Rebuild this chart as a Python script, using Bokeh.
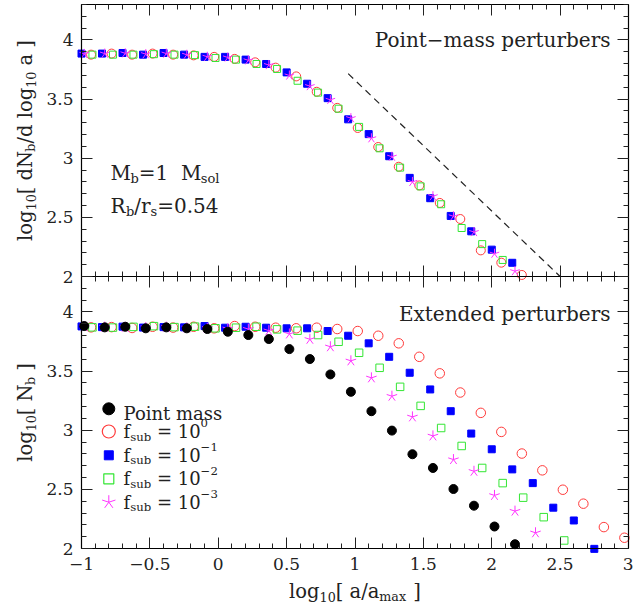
import numpy as np
from math import pi, cos, sin
from bokeh.plotting import figure
from bokeh.models import (Range1d, LinearAxis, SingleIntervalTicker,
                          CustomJSTickFormatter, Label, Grid)
from bokeh.embed import file_html
from bokeh.resources import INLINE

# ---------------- data ----------------
# upper panel : point-mass perturbers
top_blue_x = [-1.00, -0.85, -0.70, -0.55, -0.40, -0.25, -0.10, 0.05, 0.20, 0.35, 0.50,
              0.65, 0.80, 0.95, 1.10, 1.25, 1.40, 1.55, 1.70, 1.85, 2.00, 2.15]
top_blue_y = [3.885, 3.885, 3.890, 3.876, 3.890, 3.876, 3.857, 3.857, 3.834, 3.797, 3.726,
              3.630, 3.508, 3.329, 3.204, 3.017, 2.834, 2.662, 2.512, 2.382, 2.227, 2.116]
top_red_x = [-0.93, -0.78, -0.63, -0.48, -0.33, -0.18, -0.03, 0.12, 0.27, 0.42, 0.57,
             0.72, 0.87, 1.02, 1.17, 1.32, 1.47, 1.62, 1.77, 1.92, 2.07, 2.22]
top_red_y = [3.876, 3.885, 3.876, 3.885, 3.876, 3.870, 3.857, 3.840, 3.811, 3.766, 3.692,
             3.562, 3.426, 3.256, 3.095, 2.928, 2.770, 2.622, 2.486, 2.221, 2.117, 2.013]
top_green_x = [-0.92, -0.77, -0.62, -0.47, -0.32, -0.17, -0.02, 0.13, 0.28, 0.43, 0.58,
               0.73, 0.88, 1.03, 1.18, 1.33, 1.48, 1.63, 1.78, 1.93, 2.08]
top_green_y = [3.876, 3.876, 3.876, 3.880, 3.876, 3.872, 3.848, 3.834, 3.797, 3.755, 3.655,
               3.555, 3.419, 3.265, 3.084, 2.921, 2.762, 2.611, 2.410, 2.274, 2.140]
top_mag_x = [-0.98, -0.83, -0.68, -0.53, -0.38, -0.23, -0.08, 0.07, 0.22, 0.37, 0.52,
             0.67, 0.82, 0.97, 1.12, 1.27, 1.42, 1.57, 1.72, 1.87, 2.02, 2.17]
top_mag_y = [3.882, 3.885, 3.887, 3.880, 3.885, 3.875, 3.858, 3.852, 3.828, 3.788, 3.700,
             3.610, 3.494, 3.339, 3.169, 3.013, 2.800, 2.679, 2.509, 2.376, 2.193, 2.045]
slope_x = [0.95, 2.50]
slope_y = [3.715, 2.00]

# lower panel : extended perturbers
bot_black_x = [-0.98, -0.83, -0.68, -0.53, -0.38, -0.23, -0.08, 0.07, 0.22, 0.37, 0.52,
               0.67, 0.82, 0.97, 1.12, 1.27, 1.42, 1.57, 1.72, 1.87, 2.02, 2.17]
bot_black_y = [3.881, 3.870, 3.875, 3.862, 3.870, 3.862, 3.856, 3.833, 3.805, 3.771, 3.686,
               3.602, 3.472, 3.325, 3.161, 2.997, 2.797, 2.681, 2.503, 2.362, 2.186, 2.036]
bot_red_x = [-0.93, -0.78, -0.63, -0.48, -0.33, -0.18, -0.03, 0.12, 0.27, 0.42, 0.57,
             0.72, 0.87, 1.02, 1.17, 1.32, 1.47, 1.62, 1.77, 1.92, 2.07, 2.22, 2.37,
             2.52, 2.67, 2.82, 2.97]
bot_red_y = [3.870, 3.872, 3.865, 3.875, 3.868, 3.875, 3.862, 3.881, 3.875, 3.867, 3.862,
             3.867, 3.856, 3.839, 3.799, 3.735, 3.621, 3.481, 3.319, 3.147, 2.986, 2.803,
             2.661, 2.497, 2.379, 2.181, 2.091]
bot_blue_x = [-1.00, -0.85, -0.70, -0.55, -0.40, -0.25, -0.10, 0.05, 0.20, 0.35, 0.50,
              0.65, 0.80, 0.95, 1.10, 1.25, 1.40, 1.55, 1.70, 1.85, 2.00, 2.15, 2.30,
              2.45, 2.60, 2.75]
bot_blue_y = [3.878, 3.872, 3.876, 3.868, 3.872, 3.870, 3.881, 3.867, 3.875, 3.867, 3.862,
              3.862, 3.839, 3.799, 3.735, 3.621, 3.486, 3.345, 3.161, 2.972, 2.839, 2.669,
              2.553, 2.345, 2.237, 1.997]
bot_green_x = [-0.92, -0.77, -0.62, -0.47, -0.32, -0.17, -0.02, 0.13, 0.28, 0.43, 0.58,
               0.73, 0.88, 1.03, 1.18, 1.33, 1.48, 1.63, 1.78, 1.93, 2.08, 2.23, 2.38, 2.53]
bot_green_y = [3.870, 3.868, 3.874, 3.880, 3.872, 3.876, 3.862, 3.867, 3.875, 3.853, 3.842,
               3.805, 3.748, 3.655, 3.528, 3.367, 3.206, 3.019, 2.867, 2.681, 2.553, 2.430,
               2.265, 2.068]
bot_mag_x = [-0.98, -0.83, -0.68, -0.53, -0.38, -0.23, -0.08, 0.07, 0.22, 0.37, 0.52,
             0.67, 0.82, 0.97, 1.12, 1.27, 1.42, 1.57, 1.72, 1.87, 2.02, 2.17, 2.32]
bot_mag_y = [3.875, 3.872, 3.870, 3.868, 3.872, 3.866, 3.862, 3.858, 3.855, 3.842, 3.814,
             3.769, 3.706, 3.587, 3.443, 3.288, 3.113, 2.952, 2.752, 2.653, 2.449, 2.316,
             2.133]

legend_sup = ["0", "\u22121", "\u22122", "\u22123"]

# ---------------- styling / layout ----------------
FONT = "DejaVu Serif"
TXT = "#222222"
RED, BLUE, GREEN, MAG = "#ff3b3b", "#0000ff", "#33e633", "#ff33ff"

X0, X1 = -1.0, 3.0          # shared x axis
Y0, Y1 = 2.0, 4.3           # y extent of each panel
SPAN = Y1 - Y0

CW, CH = 633, 612                     # canvas
PL, PR = 81, 628                      # panel left / right (pixels)
PT, PM, PB = 4, 276, 548              # top / shared middle / bottom (pixels)
UX = (PR - PL) / (X1 - X0)            # px per x unit
UY = (PB - PM) / SPAN                 # px per y unit

x_rng = Range1d(X0 - PL / UX, X1 + (CW - PR) / UX)
y_bot = Range1d(Y0 - (CH - PB) / UY, Y0 + PB / UY)
y_top = Range1d(Y0 - (CH - PM) / UY, Y0 + PM / UY)

p = figure(width=CW, height=CH, x_range=x_rng, y_range=y_bot,
           output_backend="svg", toolbar_location=None, tools="",
           x_axis_location=None, y_axis_location=None,
           min_border_left=0, min_border_right=0,
           min_border_top=0, min_border_bottom=0)
p.extra_y_ranges = {"top": y_top}
p.center = [r for r in p.center if not isinstance(r, Grid)]
p.outline_line_color = None
p.background_fill_color = "white"
p.border_fill_color = "white"

FMT = ("var v = Math.round(tick*100)/100;"
       "return (v < 0 ? '\\u2212' : '') + Math.abs(v).toString();")


def mk_axis(labels, standoff=8, **kw):
    ax = LinearAxis(ticker=SingleIntervalTicker(interval=0.5, num_minor_ticks=5), **kw)
    ax.major_tick_in = 11
    ax.major_tick_out = 0
    ax.minor_tick_in = 5
    ax.minor_tick_out = 0
    ax.axis_line_color = "black"
    ax.axis_line_width = 1.2
    ax.major_tick_line_color = "#222222"
    ax.minor_tick_line_color = "#222222"
    if labels:
        ax.formatter = CustomJSTickFormatter(code=FMT)
        ax.major_label_text_font = FONT
        ax.major_label_text_font_size = "17px"
        ax.major_label_text_color = TXT
        ax.major_label_standoff = standoff
    else:
        ax.formatter = CustomJSTickFormatter(code="return '';")
        ax.major_label_text_font_size = "0px"
        ax.major_label_standoff = 0
    return ax


# left axes (one per panel)
p.add_layout(mk_axis(True, 8, y_range_name="top", bounds=(Y0, Y1), fixed_location=X0), "left")
p.add_layout(mk_axis(True, 8, bounds=(Y0, Y1), fixed_location=X0), "left")
# right axes
p.add_layout(mk_axis(False, y_range_name="top", bounds=(Y0, Y1), fixed_location=X1), "right")
p.add_layout(mk_axis(False, bounds=(Y0, Y1), fixed_location=X1), "right")
# top of the upper panel, shared middle border, bottom of the lower panel
p.add_layout(mk_axis(False, y_range_name="top", bounds=(X0, X1), fixed_location=Y1), "above")
p.add_layout(mk_axis(False, y_range_name="top", bounds=(X0, X1), fixed_location=Y0), "below")
p.add_layout(mk_axis(False, bounds=(X0, X1), fixed_location=Y1), "above")
p.add_layout(mk_axis(True, 9, bounds=(X0, X1), fixed_location=Y0), "below")


def stars(xs, ys, r, color, **kw):
    ang = [pi / 2 + i * 2 * pi / 5 for i in range(5)]
    sx = np.repeat(np.asarray(xs, float), 5)
    sy = np.repeat(np.asarray(ys, float), 5)
    sa = np.tile(ang, len(xs))
    p.ray(x=sx, y=sy, length=r, angle=sa, length_units="screen",
          line_color=color, line_width=1, **kw)


# ---- upper panel data ----
p.line(slope_x, slope_y, y_range_name="top", line_color="#222222",
       line_width=1.2, line_dash="7 5")
p.scatter(top_blue_x, top_blue_y, y_range_name="top", marker="square", size=7,
          fill_color=BLUE, line_color=BLUE)
p.scatter(top_red_x, top_red_y, y_range_name="top", marker="circle", size=9,
          fill_color=None, line_color=RED, line_width=1)
p.scatter(top_green_x, top_green_y, y_range_name="top", marker="square", size=7,
          fill_color=None, line_color=GREEN, line_width=1)
stars(top_mag_x, top_mag_y, 5, MAG, y_range_name="top")

# ---- lower panel data ----
p.scatter(bot_red_x, bot_red_y, marker="circle", size=9.5,
          fill_color=None, line_color=RED, line_width=1)
p.scatter(bot_blue_x, bot_blue_y, marker="square", size=7,
          fill_color=BLUE, line_color=BLUE)
p.scatter(bot_green_x, bot_green_y, marker="square", size=7.5,
          fill_color=None, line_color=GREEN, line_width=1)
stars(bot_mag_x, bot_mag_y, 5.5, MAG)
p.scatter(bot_black_x, bot_black_y, marker="circle", size=9,
          fill_color="black", line_color="black")

# ---------------- rich text helper ----------------
W = {' ': 0.318, '.': 0.318, '/': 0.337, '=': 0.838, '\u2212': 0.838, '[': 0.390,
     ']': 0.390, 'a': 0.596, 'b': 0.640, 'd': 0.640, 'e': 0.592, 'f': 0.370,
     'g': 0.640, 'i': 0.320, 'l': 0.320, 'm': 0.948, 'n': 0.644, 'o': 0.602,
     'p': 0.640, 'r': 0.478, 's': 0.513, 't': 0.402, 'u': 0.644, 'x': 0.645,
     'M': 0.995, 'N': 0.837, 'R': 0.770, 'P': 0.733, 'E': 0.730}
for c in "0123456789":
    W[c] = 0.636


def tw(s, size):
    return sum(W.get(c, 0.6) for c in s) * size


def rich_text(pieces, x, y, dx, dy, size, angle=0.0, align="left", color=TXT, **kw):
    scale = {"n": 1.0, "sub": 0.65, "sup": 0.65}
    shift = {"n": 0.0, "sub": -0.28, "sup": 0.45}
    total = sum(tw(t, size * scale[k]) for t, k in pieces)
    pos = {"left": 0.0, "center": -total / 2, "right": -total}[align]
    ca, sa = cos(angle), sin(angle)
    for t, k in pieces:
        s = size * scale[k]
        core = t.strip(" ")
        lead = len(t) - len(t.lstrip(" "))
        p0 = pos + lead * W[' '] * s
        off = shift[k] * size
        ox = dx + p0 * ca - off * sa
        oy = dy + p0 * sa + off * ca
        if core:
            p.add_layout(Label(x=x, y=y, x_offset=ox, y_offset=oy, text=core,
                               angle=angle, text_font=FONT,
                               text_font_size=f"{s:.1f}px", text_color=color,
                               text_align="left", text_baseline="alphabetic", **kw))
        pos += tw(t, s)


YMID = (Y0 + Y1) / 2

# axis titles
rich_text([("log", "n"), ("10", "sub"), ("[ dN", "n"), ("b", "sub"),
           ("/d log", "n"), ("10", "sub"), (" a ]", "n")],
          X0, YMID, -56, 0, 19.5, angle=pi / 2, align="center", y_range_name="top")
rich_text([("log", "n"), ("10", "sub"), ("[ N", "n"), ("b", "sub"), (" ]", "n")],
          X0, YMID, -56, 0, 19.5, angle=pi / 2, align="center")
rich_text([("log", "n"), ("10", "sub"), ("[ a/a", "n"), ("max", "sub"), (" ]", "n")],
          (X0 + X1) / 2, Y0, 0, -43, 19.5, align="center")

# panel titles
p.add_layout(Label(x=X1, y=Y1, y_range_name="top", x_offset=-18, y_offset=-35.5,
                   text="Point\u2212mass perturbers", text_font=FONT,
                   text_font_size="20px", text_color=TXT, text_align="right",
                   text_baseline="alphabetic"))
p.add_layout(Label(x=X1, y=Y1, x_offset=-18, y_offset=-37,
                   text="Extended perturbers", text_font=FONT,
                   text_font_size="20px", text_color=TXT, text_align="right",
                   text_baseline="alphabetic"))

# parameters of the upper panel
rich_text([("M", "n"), ("b", "sub"), ("=1", "n"), ("  M", "n"), ("sol", "sub")],
          X0, Y0, 29, 104, 20, y_range_name="top")
rich_text([("R", "n"), ("b", "sub"), ("/r", "n"), ("s", "sub"), ("=0.54", "n")],
          X0, Y0, 29, 71, 20, y_range_name="top")

# ---------------- legend (lower panel) ----------------
leg_dx = 27.3                                   # px from the panel's left edge
leg_dy = [139.7, 117.0, 93.2, 69.7, 46.3]       # px above the panel's bottom edge
lx = X0 + leg_dx / UX
ly = [Y0 + d / UY for d in leg_dy]

p.scatter([lx], [ly[0]], marker="circle", size=12, fill_color="black", line_color="black")
p.scatter([lx], [ly[1]], marker="circle", size=13, fill_color=None, line_color=RED,
          line_width=1.2)
p.scatter([lx], [ly[2]], marker="square", size=9, fill_color=BLUE, line_color=BLUE)
p.scatter([lx], [ly[3]], marker="square", size=10, fill_color=None, line_color=GREEN,
          line_width=1.2)
stars([lx], [ly[4]], 7, MAG)

rich_text([("Point mass", "n")], lx, ly[0], 14.7, -5, 18)
for i, sup in enumerate(legend_sup):
    rich_text([("f", "n"), ("sub", "sub"), (" = 10", "n"), (sup, "sup")],
              lx, ly[i + 1], 14.7, 0, 18)

open("out.html", "w", encoding="utf-8").write(file_html(p, INLINE))
